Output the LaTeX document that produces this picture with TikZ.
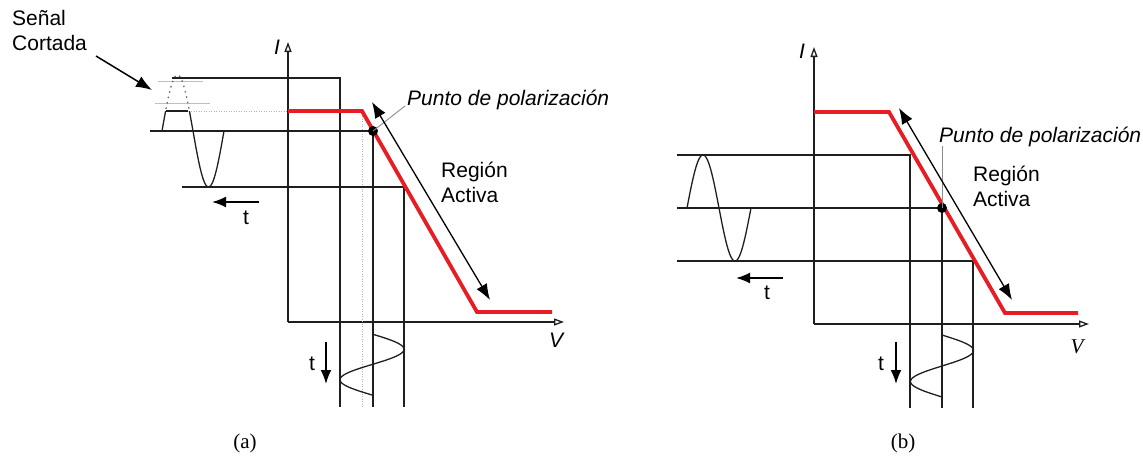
\documentclass[tikz,border=0pt]{standalone}
\usepackage{fontspec}
\setmainfont{Liberation Sans}
\newfontfamily\capfont{Liberation Serif}
\usetikzlibrary{arrows.meta}
\definecolor{curvered}{RGB}{232,28,36}
\begin{document}
\begin{tikzpicture}[x=1pt,y=-1pt,
  gridline/.style={line width=1.3pt, black!88},
  redcurve/.style={line width=3.8pt, curvered, line join=miter},
  axis/.style={line width=1.3pt, black!88, -{Triangle[open,length=10pt,width=7pt]}},
  dblarrow/.style={line width=1.3pt, {Latex[length=16pt,width=12pt]}-{Latex[length=16pt,width=12pt]}},
  tarrow/.style={line width=1.8pt, -{Latex[length=14pt,width=11pt]}},
  pointer/.style={line width=1.5pt, -{Latex[length=16pt,width=12pt]}},
  leader/.style={line width=0.9pt, black!45},
  faint/.style={line width=0.8pt, black!25},
  faintdot/.style={line width=0.9pt, black!30, dash pattern=on 1pt off 1.5pt},
  wave/.style={line width=1.3pt, black!88},
  lbl/.style={font=\fontsize{21}{25}\selectfont, inner sep=0pt},
  captionlbl/.style={font=\capfont\fontsize{21}{25}\selectfont, inner sep=0pt},
  qdot/.style={circle, fill=black, inner sep=0pt, minimum size=10pt}
]
\useasboundingbox (0,0) rectangle (1143,459);

% ===================== Panel (a) =====================
\coordinate (aO) at (288,322);
\coordinate (aItop) at (288,42);
\coordinate (aVend) at (564,322);
\draw[axis] (aO) -- (aItop);
\draw[axis] (aO) -- (aVend);
\node[lbl, font=\fontsize{21}{25}\selectfont\itshape] (aI) at (277,47) {I};
\node[lbl, font=\fontsize{21}{25}\selectfont\itshape] (aV) at (556,340) {V};

% faint helper lines
\draw[faintdot] (191,111) -- (288,111);
\draw[faintdot] (362,111) -- (362,407);
\draw[faint] (158,81) -- (203,81);
\draw[faint] (155,103) -- (210,103);

% projection lines
\coordinate (aQ) at (373,131);
\draw[gridline] (172,78) -- (340,78) -- (340,407);
\draw[gridline] (150,131) -- (aQ) -- (373,407);
\draw[gridline] (182,187) -- (404,187) -- (404,407);

% characteristic
\coordinate (aR1) at (288,111);
\coordinate (aR2) at (362,111);
\coordinate (aR3) at (477,312);
\coordinate (aR4) at (552,312);
\draw[redcurve] (aR1) -- (aR2) -- (aR3) -- (aR4);

% input signal (clipped)
\begin{scope}
  \clip (140,111) rectangle (240,200);
  \draw[wave] plot[domain=162:224, samples=80, smooth] (\x, {131-56*sin((\x-162)/62*360)});
\end{scope}
\draw[wave] (165.6,111) -- (188.4,111);
\begin{scope}
  \clip (140,70) rectangle (240,110);
  \draw[line width=1.3pt, black!60, dash pattern=on 1.5pt off 4pt] plot[domain=164:190, samples=40, smooth] (\x, {131-56*sin((\x-162)/62*360)});
\end{scope}

% output signal
\draw[wave] plot[domain=334:395, samples=80, smooth] ({372+32*sin((\x-334)/61*360)}, \x);

% bias point
\node[qdot] (aQd) at (aQ) {};
\coordinate (aLead) at (405,106);
\draw[leader] (aQ) -- (aLead);
\node[lbl, anchor=west, font=\fontsize{21}{25}\selectfont\itshape] (aPunto) at (407,100) {Punto de polarización};

% active region arrow
\coordinate (aA1) at (372,102);
\coordinate (aA2) at (490,300);
\draw[dblarrow] (aA1) -- (aA2);
\node[lbl, anchor=north west, align=left] (aReg) at (441,162) {Región\\Activa};

% clipped signal label
\node[lbl, anchor=north west, align=left] (aSen) at (12,10) {Señal\\Cortada};
\coordinate (aPtip) at (152,90);
\draw[pointer] (96,56) -- (aPtip);

% time arrows
\coordinate (aT1s) at (259,202);
\coordinate (aT1e) at (212,202);
\draw[tarrow] (aT1s) -- (aT1e);
\node[lbl] (at1) at (246,218) {t};
\coordinate (aT2s) at (326,342);
\coordinate (aT2e) at (326,384);
\draw[tarrow] (aT2s) -- (aT2e);
\node[lbl] (at2) at (312,364) {t};

\node[captionlbl] (capa) at (245,443) {(a)};

% ===================== Panel (b) =====================
\coordinate (bO) at (814,324);
\coordinate (bItop) at (814,47);
\coordinate (bVend) at (1089,324);
\draw[axis] (bO) -- (bItop);
\draw[axis] (bO) -- (bVend);
\node[lbl, font=\fontsize{21}{25}\selectfont\itshape] (bI) at (802,51) {I};
\node[lbl, font=\capfont\fontsize{21}{25}\selectfont\itshape] (bV) at (1077,347) {V};

\coordinate (bQ) at (942,208);
\draw[gridline] (677,155) -- (910,155) -- (910,408);
\draw[gridline] (677,208) -- (bQ);
\draw[gridline] (942,208) -- (942,408);
\draw[gridline] (677,261) -- (973,261) -- (973,408);

\coordinate (bR1) at (814,112);
\coordinate (bR2) at (889,112);
\coordinate (bR3) at (1005,313);
\coordinate (bR4) at (1078,313);
\draw[redcurve] (bR1) -- (bR2) -- (bR3) -- (bR4);

% input signal
\draw[wave] plot[domain=687:751, samples=100, smooth] (\x, {208-53*sin((\x-687)/64*360)});
% output signal
\draw[wave] plot[domain=335:397, samples=80, smooth] ({942+31.5*sin((\x-335)/62*360)}, \x);

\node[qdot] (bQd) at (bQ) {};
\coordinate (bLead) at (942,146);
\draw[leader] (bQ) -- (bLead);
\node[lbl, anchor=west, font=\fontsize{21}{25}\selectfont\itshape] (bPunto) at (939,137) {Punto de polarización};

\coordinate (bA1) at (899,108);
\coordinate (bA2) at (1012,300);
\draw[dblarrow] (bA1) -- (bA2);
\node[lbl, anchor=north west, align=left] (bReg) at (973,166) {Región\\Activa};

\coordinate (bT1s) at (783,278);
\coordinate (bT1e) at (736,278);
\draw[tarrow] (bT1s) -- (bT1e);
\node[lbl] (bt1) at (767,293) {t};
\coordinate (bT2s) at (896,342);
\coordinate (bT2e) at (896,384);
\draw[tarrow] (bT2s) -- (bT2e);
\node[lbl] (bt2) at (881,364) {t};

\node[captionlbl] (capb) at (903,443) {(b)};
\end{tikzpicture}
\end{document}
